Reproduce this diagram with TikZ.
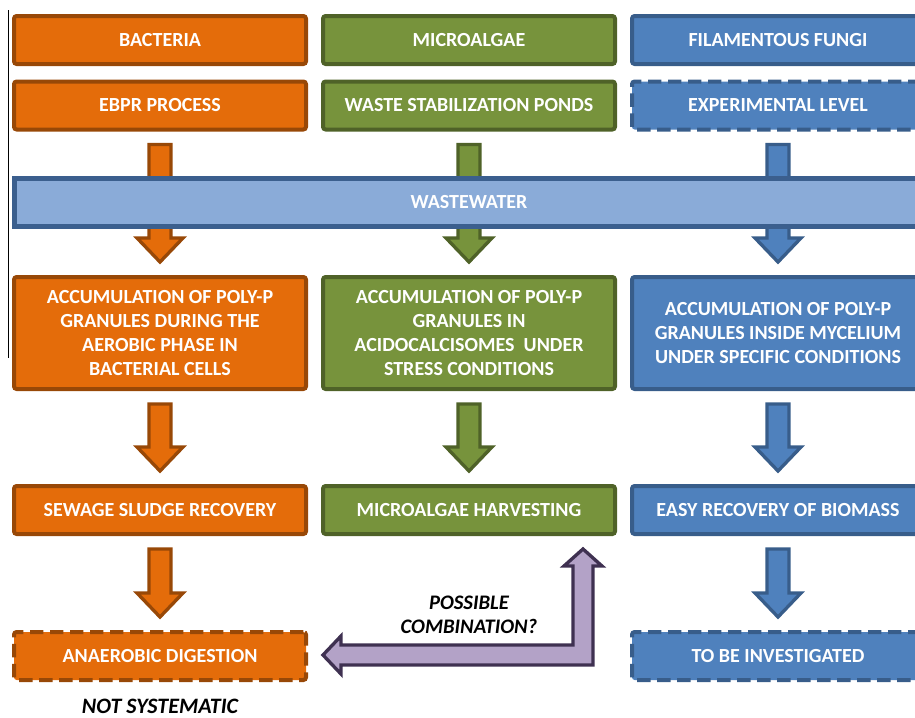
\documentclass[tikz,border=0pt]{standalone}
\usepackage{fontspec}
\setmainfont{Carlito}
\usepackage{tikz}
\usetikzlibrary{calc}

\definecolor{bactfill}{HTML}{E46C0A}
\definecolor{bactline}{HTML}{984807}
\definecolor{algaefill}{HTML}{77933C}
\definecolor{algaeline}{HTML}{4F6228}
\definecolor{fungifill}{HTML}{4F81BD}
\definecolor{fungiline}{HTML}{385D8A}
\definecolor{waterfill}{HTML}{8AABD8}
\definecolor{waterline}{HTML}{3B5F8E}
\definecolor{combofill}{HTML}{B3A2C7}
\definecolor{comboline}{HTML}{3F3151}

\tikzset{
  box/.style={draw, line width=3pt, rounded corners=2pt, minimum width=219pt,
    minimum height=36pt, inner sep=0pt, align=center, text=white,
    font=\bfseries\fontsize{15}{18}\selectfont},
  tallbox/.style={box, minimum height=84pt},
  dashbox/.style={box, dash pattern=on 10pt off 5pt},
  bact/.style={fill=bactfill, draw=bactline},
  algae/.style={fill=algaefill, draw=algaeline},
  fungi/.style={fill=fungifill, draw=fungiline},
  blk/.style={line width=2.5pt, line join=miter},
  note/.style={align=center, font=\bfseries\itshape\fontsize{15.5}{18}\selectfont},
}

% block arrow pointing down, from #1 to #2
\newcommand{\blockdown}[3]{%
  \draw[blk, #3] ($(#1.south)+(-11,13)$) -- ($(#1.south)+(11,13)$)
    -- ($(#2.north)+(11,-37)$) -- ($(#2.north)+(23,-37)$)
    -- ($(#2.north)+(0,-13)$) -- ($(#2.north)+(-23,-37)$)
    -- ($(#2.north)+(-11,-37)$) -- cycle;}

\begin{document}
\begin{tikzpicture}[x=0.75pt, y=-0.75pt]
    \useasboundingbox (0,0) rectangle (915,718);
    \clip (0,0) rectangle (915,718);
    % Margin line
    \draw [line width=0.75pt] (8,10) -- (8,358);
    % Bacteria
    \node [box, bact] (bacteria) at (160,40) {BACTERIA};
    \node [box, bact] (ebpr) at (160,105.5) {EBPR PROCESS};
    \node [tallbox, bact] (bactacc) at (160,333) {ACCUMULATION OF POLY-P\\GRANULES DURING THE\\AEROBIC PHASE IN\\BACTERIAL CELLS};
    \node [box, bact] (sludge) at (160,510) {SEWAGE SLUDGE RECOVERY};
    \node [dashbox, bact] (digest) at (160,656) {ANAEROBIC DIGESTION};
    % Microalgae
    \node [box, algae] (microalgae) at (469,40) {MICROALGAE};
    \node [box, algae] (ponds) at (469,105.5) {WASTE STABILIZATION PONDS};
    \node [tallbox, algae] (algaeacc) at (469,333) {ACCUMULATION OF POLY-P\\GRANULES IN\\ACIDOCALCISOMES \ UNDER\\STRESS CONDITIONS};
    \node [box, algae] (harvest) at (469,510) {MICROALGAE HARVESTING};
    % Filamentous fungi
    \node [box, fungi] (fungus) at (778,40) {FILAMENTOUS FUNGI};
    \node [dashbox, fungi] (experimental) at (778,105.5) {EXPERIMENTAL LEVEL};
    \node [tallbox, fungi] (fungiacc) at (778,333) {ACCUMULATION OF POLY-P\\GRANULES INSIDE MYCELIUM\\UNDER SPECIFIC CONDITIONS};
    \node [box, fungi] (biomass) at (778,510) {EASY RECOVERY OF BIOMASS};
    \node [dashbox, fungi] (investigate) at (778,656) {TO BE INVESTIGATED};
    % Arrows
    \blockdown{ebpr}{bactacc}{fill=bactfill, draw=bactline}
    \blockdown{ponds}{algaeacc}{fill=algaefill, draw=algaeline}
    \blockdown{experimental}{fungiacc}{fill=fungifill, draw=fungiline}
    \blockdown{bactacc}{sludge}{fill=bactfill, draw=bactline}
    \blockdown{algaeacc}{harvest}{fill=algaefill, draw=algaeline}
    \blockdown{fungiacc}{biomass}{fill=fungifill, draw=fungiline}
    \blockdown{sludge}{digest}{fill=bactfill, draw=bactline}
    \blockdown{biomass}{investigate}{fill=fungifill, draw=fungiline}
    % Wastewater band over the arrows
    \node [box, line width=3.5pt, fill=waterfill, draw=waterline, rounded corners=0pt,
      minimum width=682pt] (wastewater) at (469,202.5) {WASTEWATER};
    % Possible combination
    \coordinate (bend) at (583,655);
    \draw [blk, fill=combofill, draw=comboline]
      ($(bend)+(10,10)$) -- ($(harvest.south -| bend)+(10,30)$)
      -- ($(harvest.south -| bend)+(19,30)$) -- ($(harvest.south -| bend)+(0,13)$)
      -- ($(harvest.south -| bend)+(-19,30)$) -- ($(harvest.south -| bend)+(-10,30)$)
      -- ($(bend)+(-10,-10)$) -- ($(digest.east |- bend)+(33,-10)$)
      -- ($(digest.east |- bend)+(33,-19)$) -- ($(digest.east |- bend)+(15,0)$)
      -- ($(digest.east |- bend)+(33,19)$) -- ($(digest.east |- bend)+(33,10)$)
      -- cycle;
    \node [note] (combo) at (469,615) {POSSIBLE\\COMBINATION?};
    \node [note, font=\bfseries\itshape\fontsize{16.5}{18}\selectfont] (notsys) at (160,706) {NOT SYSTEMATIC};
\end{tikzpicture}
\end{document}
